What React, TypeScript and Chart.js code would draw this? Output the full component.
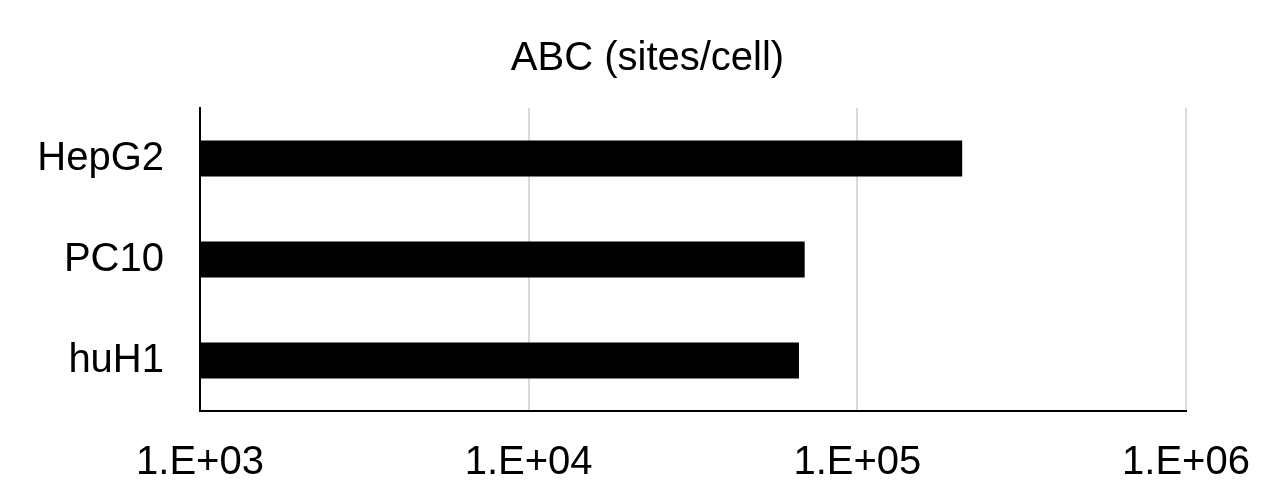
import React, { useEffect, useRef } from "react";
import { Chart, registerables } from "chart.js";

Chart.register(...registerables);

const categories = ["HepG2", "PC10", "huH1"];
const siteValues = [208500, 69150, 66430];
const tickValues = [1e3, 1e4, 1e5, 1e6];
const tickLabels = ["1.E+03", "1.E+04", "1.E+05", "1.E+06"];
const titleText = "ABC (sites/cell)";

const titleShift = {
  id: "titleShift",
  afterLayout(chart: any) {
    const t = chart.titleBlock;
    if (t) {
      t.left = 109;
      t.right = 1186;
    }
  },
};

export default function App() {
  const ref = useRef<HTMLCanvasElement | null>(null);

  useEffect(() => {
    document.body.style.margin = "0";
    const canvas = ref.current;
    if (!canvas) return;
    const font = "'Liberation Sans', Arial, sans-serif";
    const chart = new Chart(canvas, {
      type: "bar",
      data: {
        labels: categories,
        datasets: [
          {
            data: siteValues,
            backgroundColor: "#000000",
            borderWidth: 0,
            barPercentage: 0.356,
            categoryPercentage: 1,
          },
        ],
      },
      plugins: [titleShift],
      options: {
        indexAxis: "y",
        animation: false,
        responsive: false,
        maintainAspectRatio: false,
        layout: { padding: { left: 0, right: 83, top: 0, bottom: 0 } },
        plugins: {
          legend: { display: false },
          tooltip: { enabled: false },
          title: {
            display: true,
            text: titleText,
            color: "#000000",
            font: { family: font, size: 40, weight: "normal" },
            padding: { top: 35, bottom: 25 },
          },
        },
        scales: {
          x: {
            type: "logarithmic",
            min: 1e3,
            max: 1e6,
            afterBuildTicks: (scale: any) => {
              scale.ticks = tickValues.map((v) => ({ value: v }));
            },
            afterFit: (scale: any) => {
              scale.paddingLeft = 0;
              scale.paddingRight = 0;
              scale.height = 78;
            },
            ticks: {
              color: "#000000",
              font: { family: font, size: 40 },
              padding: 28,
              maxRotation: 0,
              autoSkip: false,
              callback: (v: any) => {
                const i = tickValues.indexOf(Number(v));
                return i >= 0 ? tickLabels[i] : "";
              },
            },
            grid: { color: "#d9d9d9", lineWidth: 2, drawTicks: false },
            border: { display: true, color: "#000000", width: 2 },
          },
          y: {
            afterFit: (scale: any) => {
              scale.width = 200;
              scale.paddingTop = 0;
              scale.paddingBottom = 0;
            },
            ticks: {
              color: "#000000",
              font: { family: font, size: 40 },
              padding: 36,
            },
            grid: { display: false, drawTicks: false },
            border: { display: true, color: "#000000", width: 2 },
          },
        },
      },
    });
    return () => chart.destroy();
  }, []);

  return (
    <div style={{ width: 1269, height: 489, background: "#ffffff" }}>
      <canvas ref={ref} width={1269} height={489} style={{ display: "block" }} />
    </div>
  );
}
